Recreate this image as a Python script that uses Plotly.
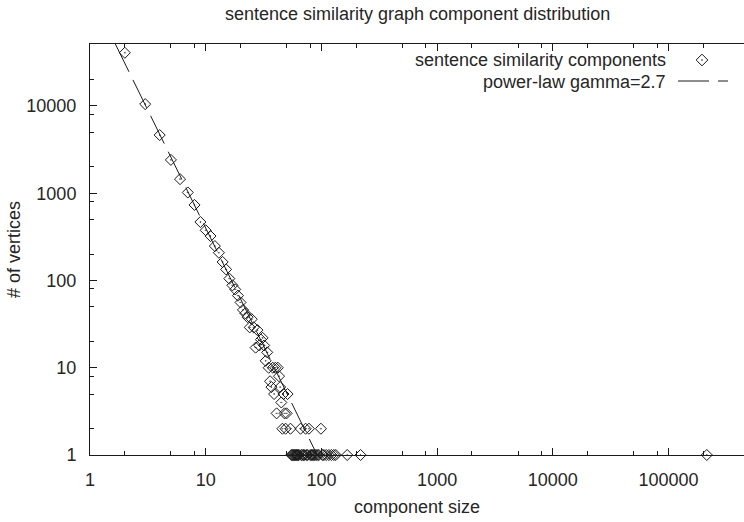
import plotly.graph_objects as go

# ---- data ----
component_sizes = [2, 3, 4, 5, 6, 7, 8, 9, 10, 11, 12, 13, 14, 15, 16, 17, 18, 19, 20,
                   21, 22, 23, 24, 25, 26, 27, 28, 29, 30, 31, 32, 33, 34, 35, 36, 37,
                   38, 39, 40, 41, 42, 43, 44, 45, 46, 47, 48, 49, 50, 51, 54, 55, 56,
                   57, 58, 59, 60, 61, 62, 63, 64, 66, 67, 68, 70, 71, 73, 74, 76, 78,
                   80, 82, 84, 86, 88, 90, 93, 95, 99, 102, 105, 110, 116, 122, 128,
                   133, 167, 218, 214000]
vertex_counts = [40700, 10500, 4640, 2410, 1450, 1020, 734, 468, 376, 323, 248, 208,
                 163, 134, 105, 88, 79, 67, 56, 46, 42, 38, 29, 36, 29, 17, 27, 18, 21,
                 22, 18, 12, 15, 10, 7, 6, 10, 5, 10, 3, 10, 8, 6, 4, 2, 5, 3, 2, 3, 5,
                 2, 1, 1, 1, 1, 1, 1, 1, 1, 1, 1, 2, 1, 1, 1, 1, 2, 1, 1, 2, 1, 1, 1, 1,
                 1, 1, 1, 1, 2, 1, 1, 1, 1, 1, 1, 1, 1, 1, 1]

GAMMA = 2.7
COEF = 200000.0
Y_TOP_LOG = 4.71
fit_x = [(COEF / 10 ** Y_TOP_LOG) ** (1 / GAMMA), 1000.0]
fit_y = [COEF * x ** (-GAMMA) for x in fit_x]

major_vals = [1, 10, 100, 1000, 10000, 100000]
major_text = ["1", "10", "100", "1000", "10000", "100000"]
y_major_vals = [1, 10, 100, 1000, 10000]
y_major_text = ["1", "10", "100", "1000", "10000"]
minor_vals = [m * 10 ** k for k in range(0, 7) for m in (2, 5, 8)]

TITLE = "sentence similarity graph component distribution"
XLABEL = "component size"
YLABEL = "# of vertices"
LEG1 = "sentence similarity components"
LEG2 = "power-law gamma=2.7"

INK = "#1a1a1a"
TXT = "#262626"
FONT = "Liberation Sans, Arial, Helvetica, sans-serif"
FS = 18

# plot area in pixels
L, R, T, B = 90, 744, 44, 455
W, H = 744, 522

fig = go.Figure()

fig.add_trace(go.Scatter(
    x=fit_x, y=fit_y, mode="lines",
    line=dict(color=INK, width=1, dash="31px,9px"),
    showlegend=False, hoverinfo="skip"))

fig.add_trace(go.Scatter(
    x=component_sizes, y=vertex_counts, mode="markers",
    marker=dict(symbol="diamond-open-dot", size=8.5, color=INK,
                line=dict(color=INK, width=1)),
    showlegend=False, cliponaxis=False))

# legend drawn in an overlay pixel-coordinate axis
fig.add_trace(go.Scatter(
    x=[702], y=[60], xaxis="x2", yaxis="y2", mode="markers",
    marker=dict(symbol="diamond-open-dot", size=9, color=INK,
                line=dict(color=INK, width=1)),
    showlegend=False, hoverinfo="skip"))
fig.add_trace(go.Scatter(
    x=[678, 728], y=[81, 81], xaxis="x2", yaxis="y2", mode="lines",
    line=dict(color=INK, width=1, dash="31px,9px"),
    showlegend=False, hoverinfo="skip"))

def px2paper_x(px):
    return (px - L) / (R - L)

def px2paper_y(py):
    return (B - py) / (B - T)

axis_common = dict(
    type="log", showline=True, linecolor=INK, linewidth=1,
    ticks="inside", ticklen=7, tickwidth=1, tickcolor=INK,
    showgrid=False, zeroline=False,
    tickfont=dict(family=FONT, size=FS, color=TXT),
    minor=dict(tickvals=minor_vals, ticks="inside", ticklen=4,
               tickcolor=INK, tickwidth=1, showgrid=False),
)

fig.update_layout(
    width=W, height=522,
    margin=dict(l=L, r=W - R, t=T, b=H - B, pad=0),
    paper_bgcolor="white", plot_bgcolor="white",
    showlegend=False,
    xaxis=dict(range=[0, 5.652], tickvals=major_vals, ticktext=major_text,
               mirror="ticks", ticklabelstandoff=8, **axis_common),
    yaxis=dict(range=[0, Y_TOP_LOG], tickvals=y_major_vals, ticktext=y_major_text,
               mirror=False, ticklabelstandoff=9, **axis_common),
    xaxis2=dict(overlaying="x", range=[L, R], visible=False, anchor="y2"),
    yaxis2=dict(overlaying="y", range=[B, T], visible=False, anchor="x2"),
    annotations=[
        dict(text=TITLE, xref="paper", yref="paper", x=px2paper_x(417), y=px2paper_y(14),
             xanchor="center", yanchor="middle", showarrow=False,
             font=dict(family=FONT, size=FS, color=TXT)),
        dict(text=XLABEL, xref="paper", yref="paper", x=px2paper_x(417), y=px2paper_y(507),
             xanchor="center", yanchor="middle", showarrow=False,
             font=dict(family=FONT, size=FS, color=TXT)),
        dict(text=YLABEL, xref="paper", yref="paper", x=px2paper_x(14), y=px2paper_y(250),
             xanchor="center", yanchor="middle", showarrow=False, textangle=-90,
             font=dict(family=FONT, size=FS, color=TXT)),
        dict(text=LEG1, xref="x2", yref="y2", x=668, y=60,
             xanchor="right", yanchor="middle", showarrow=False,
             font=dict(family=FONT, size=FS, color=TXT)),
        dict(text=LEG2, xref="x2", yref="y2", x=668, y=82,
             xanchor="right", yanchor="middle", showarrow=False,
             font=dict(family=FONT, size=FS, color=TXT)),
    ],
)

fig.write_html("out.html")
